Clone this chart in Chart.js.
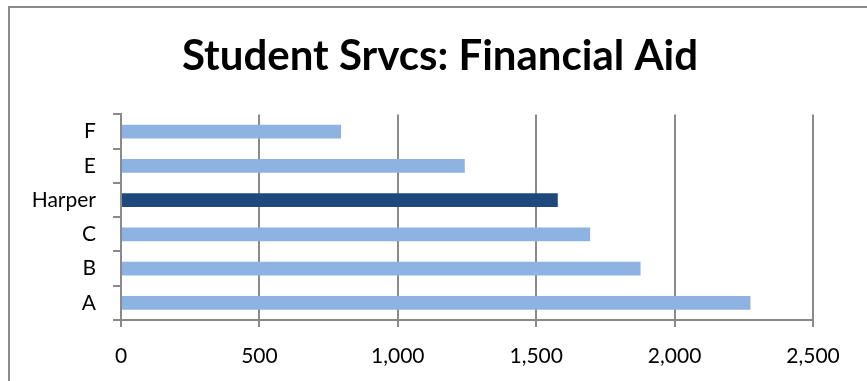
<!DOCTYPE html>
<html>
<head>
<meta charset="utf-8">
<script src="https://cdn.jsdelivr.net/npm/chart.js@4/dist/chart.umd.min.js"></script>
<style>
  body { margin: 0; background: #fff; }
  #wrap { position: relative; width: 867px; height: 381px; overflow: hidden; }
  #frame { position: absolute; left: 8px; top: 6px; width: 900px; height: 420px; border: 2px solid #8a8a8a; }
  canvas { position: absolute; left: 0; top: 0; }
</style>
</head>
<body>
<div id="wrap">
  <div id="frame"></div>
  <canvas id="chart_canvas" width="867" height="381"></canvas>
</div>
<script>
// chart data, bottom category first (as in the original)
var categories = ['A', 'B', 'C', 'Harper', 'E', 'F'];
var values = [2274, 1877, 1695, 1578, 1242, 795];
var xTicks = [0, 500, 1000, 1500, 2000, 2500];
var titleText = 'Student Srvcs: Financial Aid';

var lightBlue = '#8db3e2';
var darkBlue = '#1f497d';
var gridColor = '#8a8a8a';

var barColors = categories.map(function (c) {
  return c === 'Harper' ? darkBlue : lightBlue;
});

var ctx = document.getElementById('chart_canvas').getContext('2d');
new Chart(ctx, {
  type: 'bar',
  data: {
    labels: categories,
    datasets: [{
      data: values,
      backgroundColor: barColors,
      borderWidth: 0,
      barPercentage: 0.4,
      categoryPercentage: 1
    }]
  },
  options: {
    indexAxis: 'y',
    responsive: false,
    animation: false,
    layout: { padding: { left: 13, right: 0, top: 0, bottom: 0 } },
    plugins: {
      legend: { display: false },
      tooltip: { enabled: false },
      title: {
        display: true,
        text: titleText,
        color: '#000',
        font: { family: 'Lato', size: 42, weight: 'bold' },
        padding: { top: 31, bottom: 33 }
      }
    },
    scales: {
      x: {
        min: 0,
        max: 2500,
        afterBuildTicks: function (scale) {
          scale.ticks = xTicks.map(function (v) { return { value: v }; });
        },
        afterFit: function (scale) {
          scale.height = 61;
          scale.paddingRight = 54;
        },
        grid: { color: gridColor, lineWidth: 2, tickLength: 7 },
        border: { color: gridColor, width: 2 },
        ticks: {
          color: '#000',
          padding: 17,
          font: { family: 'Lato', size: 21 },
          callback: function (v) { return Number(v).toLocaleString('en-US'); }
        }
      },
      y: {
        reverse: true,
        afterFit: function (scale) { scale.width = 108; },
        grid: { color: gridColor, lineWidth: 2, tickLength: 8, drawOnChartArea: false },
        border: { color: gridColor, width: 2 },
        ticks: {
          color: '#000',
          padding: 17,
          font: { family: 'Lato', size: 21 }
        }
      }
    }
  }
});
</script>
</body>
</html>
